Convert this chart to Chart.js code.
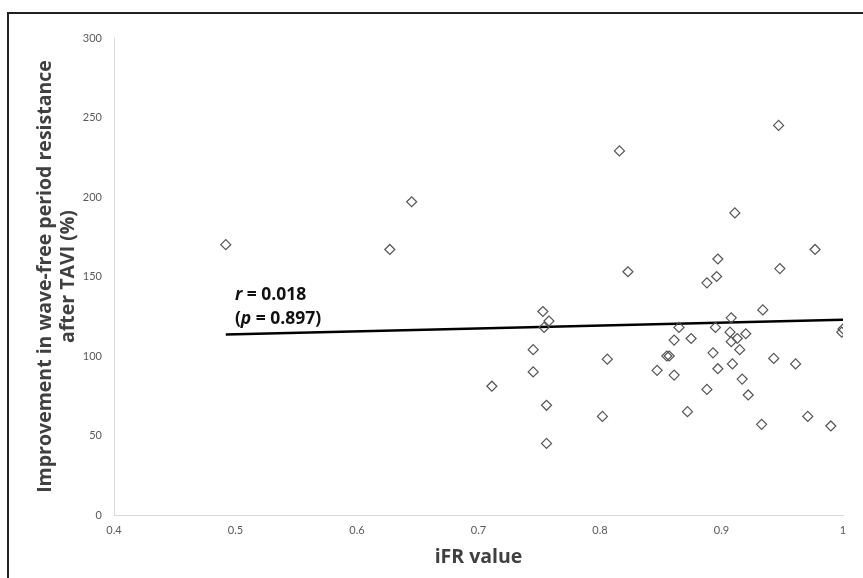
<!DOCTYPE html>
<html>
<head>
<meta charset="utf-8">
<script src="https://cdn.jsdelivr.net/npm/chart.js@4"></script>
<style>
  html, body { margin: 0; padding: 0; background: #fff; }
  #chart { display: block; }
</style>
</head>
<body>
<canvas id="chart" width="863" height="578"></canvas>
<script>
/* ====== DATA ====== */
const ifrValues = [
  0.492, 0.627, 0.645,
  0.947, 0.816, 0.911, 0.977, 0.823, 0.897, 0.896, 0.888, 0.948,
  0.753, 0.758, 0.754, 0.934, 0.908, 0.865, 0.895, 0.907, 0.913, 0.920,
  0.908, 1.000, 0.999, 0.861, 0.875, 0.745, 0.915, 0.893, 0.855, 0.857,
  0.806, 0.943, 0.961, 0.909, 0.847, 0.897, 0.861, 0.745, 0.917, 0.711,
  0.888, 0.922, 0.756, 0.872, 0.802, 0.971, 0.933, 0.990, 0.756
];
const improvement = [
  170, 167, 197,
  245, 229, 190, 167, 153, 161, 150, 146, 155,
  128, 122, 118, 129, 124, 118, 118, 115, 111, 114,
  109, 117, 115, 110, 111, 104, 104, 102, 100, 100,
  98, 98.5, 95, 95, 91, 92, 88, 90, 85.5, 81,
  79, 75.5, 69, 65, 62, 62, 57, 56, 45
];
const trendX = [0.492, 1.0];
const trendY = [113.6, 122.8];
const statLines = ["r = 0.018", "(p = 0.897)"];

const xTicks = { min: 0.4, max: 1, step: 0.1 };
const yTicks = { min: 0, max: 300, step: 50 };

/* ====== PLUGINS ====== */
// frame: only top + left edges show in the cropped figure
const framePlugin = {
  id: "frame",
  afterDraw(chart){
    const c = chart.ctx;
    c.save();
    c.strokeStyle = "#222"; c.lineWidth = 2;
    c.beginPath();
    c.moveTo(8, 578); c.lineTo(8, 13); c.lineTo(863, 13);
    c.stroke();
    c.restore();
  }
};

// r / p annotation above the regression line
const statsPlugin = {
  id: "stats",
  afterDatasetsDraw(chart){
    const {ctx: c, scales: {x, y}} = chart;
    const px = x.getPixelForValue(0.4995);
    const rows = [y.getPixelForValue(138.5), y.getPixelForValue(123.3)];
    c.save();
    c.fillStyle = "#111"; c.textBaseline = "middle"; c.textAlign = "left";
    rows.forEach((py, i) => {
      const txt = statLines[i];
      const letter = i === 0 ? "r" : "p";
      const idx = txt.indexOf(letter);
      let cx = px;
      const parts = [[txt.slice(0, idx), false], [letter, true], [txt.slice(idx + 1), false]];
      parts.forEach(([s, it]) => {
        c.font = (it ? "italic " : "") + "bold 17.5px 'Open Sans'";
        c.fillText(s, cx, py);
        cx += c.measureText(s).width;
      });
    });
    c.restore();
  }
};

/* ====== CHART ====== */
const points = ifrValues.map((v, i) => ({ x: v, y: improvement[i] }));
const trend = trendX.map((v, i) => ({ x: v, y: trendY[i] }));

new Chart(document.getElementById("chart"), {
  type: "scatter",
  data: {
    datasets: [
      {
        label: "patients",
        data: points,
        pointStyle: "rectRot",
        pointRadius: 5,
        pointHoverRadius: 5,
        borderWidth: 1.2,
        borderColor: "#555",
        backgroundColor: "rgba(255,255,255,0)"
      },
      {
        type: "line",
        label: "trend",
        data: trend,
        borderColor: "#000",
        borderWidth: 2.5,
        pointRadius: 0,
        fill: false
      }
    ]
  },
  options: {
    responsive: false,
    animation: false,
    layout: { padding: { left: 10, top: 38, right: 20, bottom: 0 } },
    plugins: { legend: { display: false }, tooltip: { enabled: false } },
    scales: {
      x: {
        type: "linear",
        min: xTicks.min, max: xTicks.max,
        grid: { display: false, drawTicks: false },
        border: { display: true, color: "#d9d9d9", width: 1 },
        ticks: { stepSize: xTicks.step, padding: 9, color: "#595959", font: { family: "Lato", size: 11 },
                 callback: v => String(+v.toFixed(1)) },
        title: { display: true, text: "iFR value", color: "#404040", padding: { top: 0, bottom: 9 },
                 font: { family: "'Open Sans'", size: 19.5, weight: "bold", lineHeight: 1.2 } },
        afterFit(s){ s.height = 63; }
      },
      y: {
        min: yTicks.min, max: yTicks.max,
        grid: { display: false, drawTicks: false },
        border: { display: true, color: "#d9d9d9", width: 1 },
        ticks: { stepSize: yTicks.step, padding: 12, color: "#595959", font: { family: "Lato", size: 11 } },
        title: { display: true, text: ["Improvement in wave-free period resistance", "after TAVI (%)"],
                 color: "#404040", padding: { top: 23.5, bottom: 0 },
                 font: { family: "'Open Sans'", size: 19.5, weight: "bold", lineHeight: 1.18 } },
        afterFit(s){ s.width = 104; }
      }
    }
  },
  plugins: [framePlugin, statsPlugin]
});
</script>
</body>
</html>
